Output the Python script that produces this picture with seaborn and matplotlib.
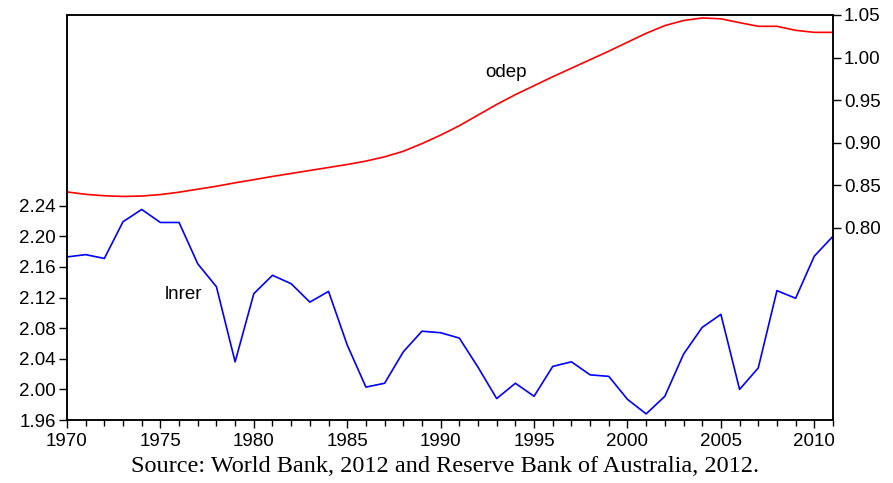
import matplotlib
matplotlib.use("Agg")
import matplotlib.pyplot as plt
from matplotlib.ticker import MultipleLocator, FixedLocator
import seaborn as sns
import pandas as pd

years = list(range(1970, 2012))

# log real exchange rate (left axis)
lnrer = [2.173, 2.176, 2.171, 2.219, 2.235, 2.218, 2.218, 2.164, 2.134, 2.036,
         2.125, 2.149, 2.138, 2.114, 2.128, 2.058, 2.003, 2.008, 2.049, 2.076,
         2.074, 2.067, 2.029, 1.988, 2.008, 1.991, 2.030, 2.036, 2.019, 2.017,
         1.987, 1.968, 1.991, 2.046, 2.081, 2.098, 2.000, 2.028, 2.129, 2.119,
         2.174, 2.200]

# old-age dependency (right axis)
odep = [0.8423, 0.8395, 0.8378, 0.8370, 0.8375, 0.8392, 0.8420, 0.8455, 0.8490, 0.8530,
        0.8567, 0.8605, 0.8640, 0.8675, 0.8710, 0.8745, 0.8785, 0.8835, 0.8900, 0.8990,
        0.9090, 0.9200, 0.9325, 0.9450, 0.9565, 0.9670, 0.9775, 0.9875, 0.9975, 1.0075,
        1.0180, 1.0285, 1.0375, 1.0435, 1.0465, 1.0455, 1.0410, 1.0367, 1.0367, 1.0320,
        1.0296, 1.0296]

left_ticks = [1.96, 2.00, 2.04, 2.08, 2.12, 2.16, 2.20, 2.24]
right_ticks = [0.80, 0.85, 0.90, 0.95, 1.00, 1.05]
year_ticks = [1970, 1975, 1980, 1985, 1990, 1995, 2000, 2005, 2010]

df = pd.DataFrame({"year": years, "lnrer": lnrer, "odep": odep})

sns.set_style("ticks")
plt.rcParams["font.family"] = ["Liberation Sans", "DejaVu Sans"]
plt.rcParams["text.color"] = "black"
plt.rcParams["xtick.color"] = "black"
plt.rcParams["ytick.color"] = "black"

fig = plt.figure(figsize=(8.93, 4.83), dpi=100)
ax = fig.add_axes([0.075, 0.1304, 0.8578, 0.8386])
ax2 = ax.twinx()

sns.lineplot(data=df, x="year", y="lnrer", ax=ax, color="#0000FF", linewidth=1.2)
sns.lineplot(data=df, x="year", y="odep", ax=ax2, color="#FF0000", linewidth=1.2)

ax.set_xlim(1970, 2011)
ax.set_ylim(1.96, 2.489)
ax2.set_ylim(0.5746, 1.05)

ax.xaxis.set_major_locator(FixedLocator(year_ticks))
ax.xaxis.set_minor_locator(MultipleLocator(1))
ax.yaxis.set_major_locator(FixedLocator(left_ticks))
ax.set_yticklabels([f"{v:.2f}" for v in left_ticks])
ax2.yaxis.set_major_locator(FixedLocator(right_ticks))
ax2.set_yticklabels([f"{v:.2f}" for v in right_ticks])

for a in (ax, ax2):
    a.set_xlabel("")
    a.set_ylabel("")
    for s in a.spines.values():
        s.set_visible(True)
        s.set_color("black")
        s.set_linewidth(1.1)

ax.tick_params(axis="x", which="major", direction="out", length=6, width=1,
               labelsize=13.5, pad=3, colors="black")
ax.tick_params(axis="x", which="minor", direction="out", length=4, width=1,
               colors="black")
ax.tick_params(axis="y", direction="out", length=6, width=1, labelsize=13.5,
               pad=2, colors="black")
ax2.tick_params(axis="y", direction="out", length=6, width=1, labelsize=13.5,
                pad=2, colors="black")

ax.text(1976.26, 2.1234, "lnrer", fontsize=13.5, ha="center", va="center",
        color="black")
ax2.text(1993.5, 0.982, "odep", fontsize=13.5, ha="center", va="center",
         color="black")

fig.text(445 / 893, 1 - 466 / 483,
         "Source: World Bank, 2012 and Reserve Bank of Australia, 2012.",
         family=["Liberation Serif", "DejaVu Serif"], fontsize=17.5,
         ha="center", va="center", color="black")

fig.savefig("out.png", dpi=100)
